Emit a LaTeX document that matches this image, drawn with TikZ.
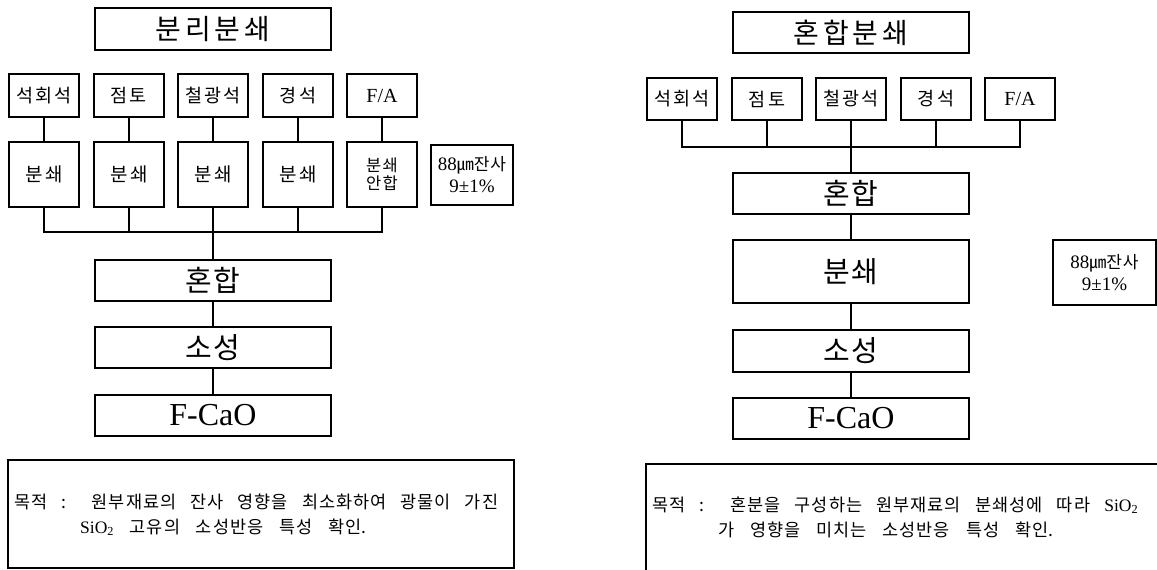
\documentclass[tikz,border=0pt]{standalone}
\usepackage{fontspec}
\setmainfont{Liberation Serif}
\newfontfamily\kr{Noto Sans CJK KR}
\newcommand\setfs[2]{\fontsize{#1}{#2}\selectfont}
% explicit spacing between Hangul syllables
\XeTeXinterchartokenstate=1
\newcount\hgc \hgc="AC00
\loop \XeTeXcharclass\hgc=5 \advance\hgc by 1 \ifnum\hgc<"D7A4 \repeat
\newdimen\kgap \kgap=1pt
\XeTeXinterchartoks 5 5 = {\kern\kgap}
\newcommand\setgap[1]{\kgap#1\relax}
\tikzset{
  bx/.style={draw, line width=1.3pt, inner sep=0pt, outer sep=0pt, align=center},
  ln/.style={line width=1.3pt},
  ttl/.style={bx, font=\kr\setfs{28}{30}\setgap{4pt}, minimum width=236pt, minimum height=42pt},
  big/.style={bx, font=\kr\setfs{29}{30}\setgap{1.5pt}, minimum width=236pt},
  sml/.style={bx, font=\kr\setfs{18.5}{20}\setgap{2pt}, minimum width=70pt, minimum height=43pt},
  mid/.style={bx, font=\kr\setfs{19}{20}\setgap{3pt}, minimum width=70pt, minimum height=65pt},
  res/.style={bx, font=\rmfamily\setfs{19}{22}\setgap{1pt}},
  txt/.style={anchor=west, inner sep=0pt, font=\kr\setfs{17.5}{19}\setgap{1pt}},
}
\begin{document}
\begin{tikzpicture}[x=1pt, y=-1pt]
\useasboundingbox (0,0) rectangle (1157,570);
\clip (0,0) rectangle (1157,570);

% ---------------- left panel ----------------
\node[ttl] (ltitle) at (213,29) {분리분쇄};
\node[sml] (lt1) at (44,95.5) {석회석};
\node[sml] (lt2) at (129,95.5) {점토};
\node[sml] (lt3) at (213,95.5) {철광석};
\node[sml] (lt4) at (298,95.5) {경석};
\node[sml, font=\rmfamily\setfs{20}{20}] (lt5) at (382,95.5) {F/A};
\node[mid] (lb1) at (44,174.5) {분쇄};
\node[mid] (lb2) at (129,174.5) {분쇄};
\node[mid] (lb3) at (213,174.5) {분쇄};
\node[mid] (lb4) at (298,174.5) {분쇄};
\node[mid, font=\kr\setfs{16.5}{18}\setgap{1.5pt}] (lb5) at (382,174.5) {분쇄\\안합};
\node[res, minimum width=82pt, minimum height=60pt] (lres) at (472,175) {88{\kr\setfs{17}{22}㎛잔사}\\9±1\%};
\node[big, minimum height=41pt] (lm) at (213,280.5) {혼합};
\node[big, minimum height=41pt] (ls) at (213,347.5) {소성};
\node[big, minimum height=41pt, font=\rmfamily\setfs{32}{32}] (lf) at (213,415.5) {F-CaO};
\draw[line width=1.3pt] (8,460) rectangle (514,568);
\node[txt] (ltx1) at (14,502) {\makebox[484pt][s]{목적 : 원부재료의 잔사 영향을 최소화하여 광물이 가진}};
\node[txt] (ltx2) at (80,527) {\makebox[286pt][s]{{\rmfamily\setfs{17.5}{19}SiO\textsubscript{2}} 고유의 소성반응 특성 확인.}};

\coordinate (lbus) at (213,232);
\foreach \i in {1,...,5} { \draw[ln] (lt\i) -- (lb\i); }
\draw[ln] (lb1.south) |- (lbus) -| (lb5.south);
\draw[ln] (lb2.south) -- (lb2.south |- lbus);
\draw[ln] (lb4.south) -- (lb4.south |- lbus);
\draw[ln] (lb3) -- (lm);
\draw[ln] (lm) -- (ls);
\draw[ln] (ls) -- (lf);

% ---------------- right panel ----------------
\node[ttl, minimum height=41pt] (rtitle) at (851,32.5) {혼합분쇄};
\node[sml, minimum height=42pt] (rt1) at (682,99) {석회석};
\node[sml, minimum height=42pt] (rt2) at (767,99) {점토};
\node[sml, minimum height=42pt] (rt3) at (851,99) {철광석};
\node[sml, minimum height=42pt] (rt4) at (936,99) {경석};
\node[sml, minimum height=42pt, font=\rmfamily\setfs{20}{20}] (rt5) at (1020,99) {F/A};
\node[big, minimum height=41pt] (rm) at (851,193.5) {혼합};
\node[big, minimum height=63pt] (rg) at (851,271.5) {분쇄};
\node[big, minimum height=42pt] (rs) at (851,351) {소성};
\node[big, minimum height=41pt, font=\rmfamily\setfs{32}{32}] (rf) at (851,418.5) {F-CaO};
\node[res, minimum width=103pt, minimum height=65pt] (rres) at (1104.5,272.5) {88{\kr\setfs{17}{22}㎛잔사}\\9±1\%};
\draw[line width=1.3pt] (646,464) rectangle (1175,585);
\node[txt] (rtx1) at (652,505) {\makebox[486pt][s]{목적 : 혼분을 구성하는 원부재료의 분쇄성에 따라 {\rmfamily\setfs{17.5}{19}SiO\textsubscript{2}}}};
\node[txt] (rtx2) at (718,530) {\makebox[335pt][s]{가 영향을 미치는 소성반응 특성 확인.}};

\coordinate (rbus) at (851,147);
\draw[ln] (rt1.south) |- (rbus) -| (rt5.south);
\draw[ln] (rt2.south) -- (rt2.south |- rbus);
\draw[ln] (rt4.south) -- (rt4.south |- rbus);
\draw[ln] (rt3) -- (rm);
\draw[ln] (rm) -- (rg);
\draw[ln] (rg) -- (rs);
\draw[ln] (rs) -- (rf);
\end{tikzpicture}
\end{document}
